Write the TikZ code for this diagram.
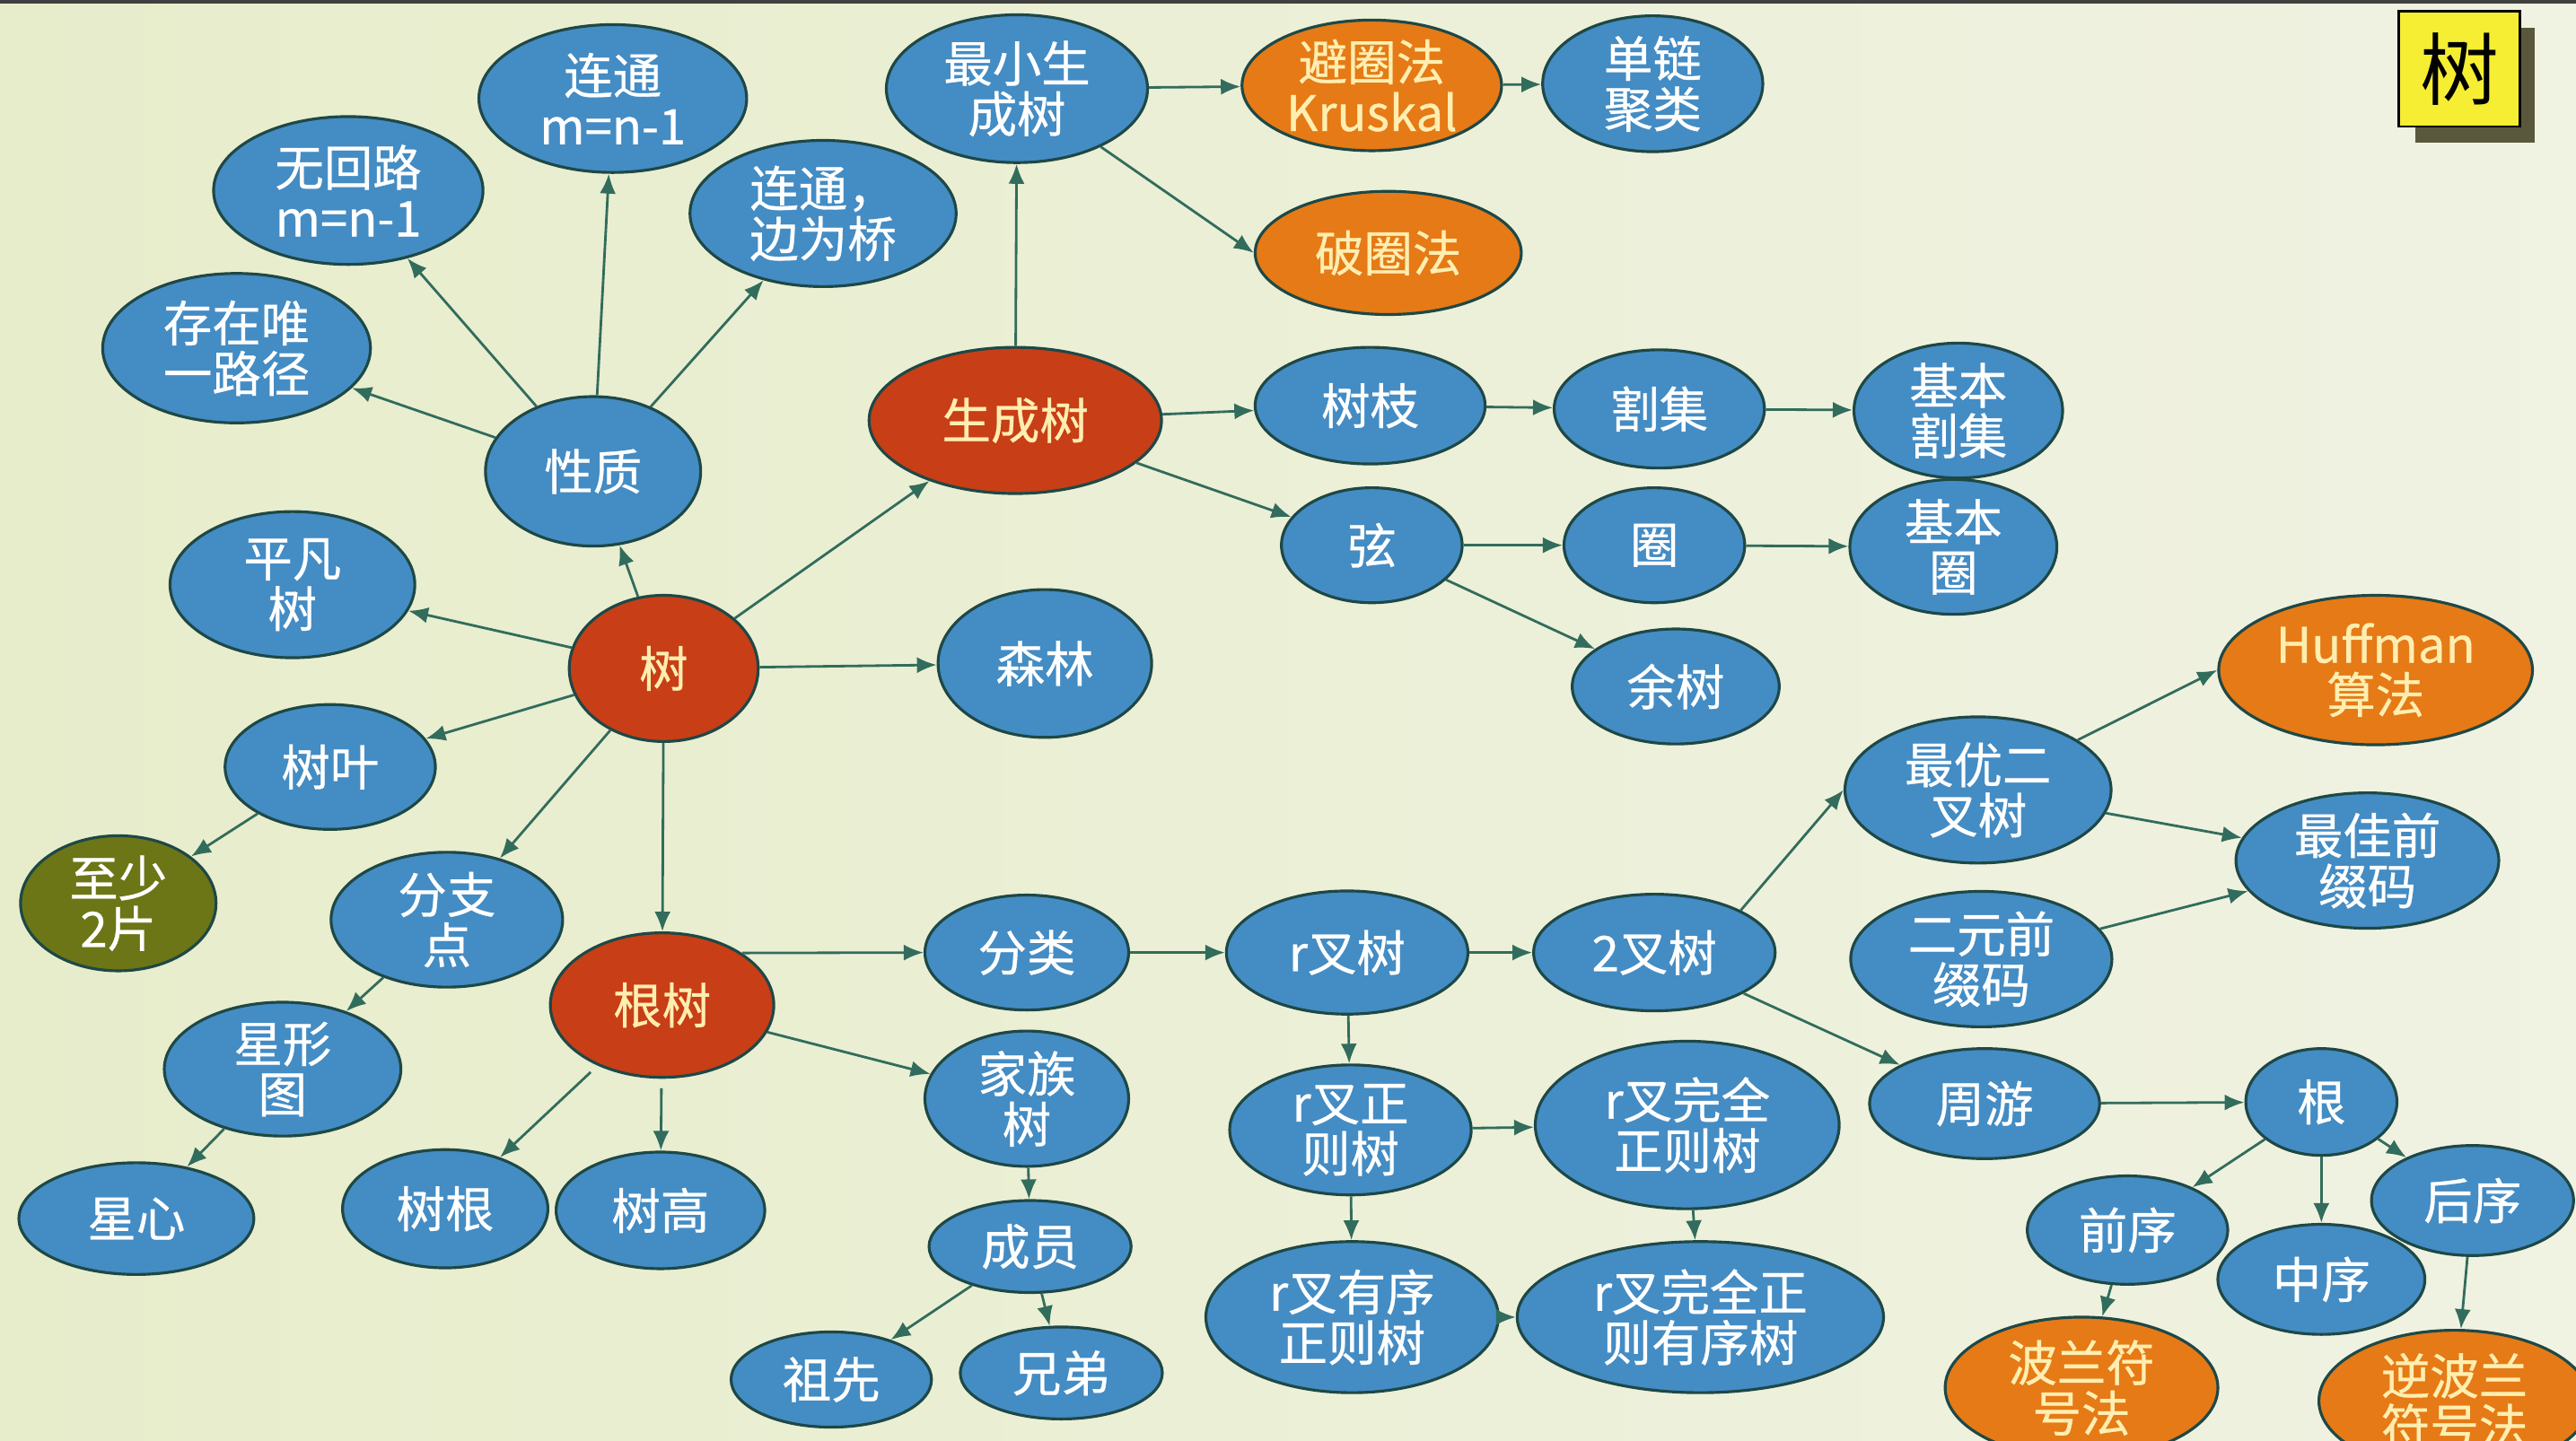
\documentclass[tikz,border=0pt]{standalone}
\usepackage{fontspec}
\setmainfont{Noto Sans CJK SC}
\newfontfamily\bubblefont{Noto Sans CJK SC}[FakeBold=0.6]
\usetikzlibrary{arrows.meta,shapes.geometric}
\definecolor{bgl}{RGB}{231,237,203}
\definecolor{bgr}{RGB}{240,242,226}
\definecolor{nodeblue}{RGB}{68,140,196}
\definecolor{rimcol}{RGB}{30,72,70}
\definecolor{rootred}{RGB}{200,62,22}
\definecolor{methodorange}{RGB}{229,122,22}
\definecolor{leafgreen}{RGB}{108,118,22}
\definecolor{arrowcol}{RGB}{50,108,92}
\definecolor{warmtext}{RGB}{255,238,176}
\definecolor{titleyellow}{RGB}{245,238,50}
\definecolor{shadowcol}{RGB}{90,88,60}
\def\pxu{0.18304mm}

\begin{document}
\begin{tikzpicture}[x=0.18304mm,y=-0.18304mm,
    bubble/.style={ellipse,draw=rimcol,line width=0.9pt,fill=nodeblue,text=white,inner sep=0pt,align=center,font=\bubblefont\fontsize{15.5}{16}\selectfont},
    rootnode/.style={bubble,fill=rootred,text=warmtext},
    methodnode/.style={bubble,fill=methodorange,text=warmtext},
    leafnode/.style={bubble,fill=leafgreen,text=white},
    dims/.style 2 args={minimum width=#1*\pxu,minimum height=#2*\pxu},
    link/.style={draw=arrowcol,line width=0.8pt,-{Latex[length=2.2mm,width=1.8mm]}}]
    % slide
    \fill[left color=bgl,right color=bgr] (0,0) rectangle (1568,877);
    \fill[black!75] (0,0) rectangle (1568,2);
    \useasboundingbox (0,0) rectangle (1568,877);

    % properties
    \node[bubble,dims={163}{90}] (liantong) at (373,60) {连通\\m=n-1};
    \node[bubble,dims={164}{90}] (wuhuilu) at (212,116) {无回路\\m=n-1};
    \node[bubble,dims={162}{89}] (qiao) at (501,130) {连通，\\边为桥};
    \node[bubble,dims={163}{91}] (weiyi) at (144,212) {存在唯\\一路径};
    \node[bubble,dims={131}{91}] (xingzhi) at (361,287) {性质};
    \node[bubble,dims={149}{89}] (pingfan) at (178,356) {平凡\\树};
    \node[rootnode,dims={115}{89}] (shu) at (404,407) {树};
    \node[bubble,dims={130}{90}] (senlin) at (636,404) {森林};
    \node[bubble,dims={128}{76}] (shuye) at (201,467) {树叶};
    \node[leafnode,dims={119}{75}] (zhishao) at (72,550) {至少\\2片};
    \node[bubble,dims={141}{68}] (fenzhi) at (272,560) {分支\\点};
    \node[bubble,dims={144}{68}] (xingxing) at (172,651) {星形\\图};
    \node[bubble,dims={143}{68}] (xingxin) at (83,742) {星心};

    % rooted trees
    \node[rootnode,dims={136}{88}] (genshu) at (403,612) {根树};
    \node[bubble,dims={125}{72}] (shugen) at (271,736) {树根};
    \node[bubble,dims={127}{71}] (shugao) at (402,737) {树高};
    \node[bubble,dims={124}{70}] (fenlei) at (625,580) {分类};
    \node[bubble,dims={124}{72}] (jiazu) at (625,669) {家族\\树};
    \node[bubble,dims={123}{56}] (chengyuan) at (627,759) {成员};
    \node[bubble,dims={122}{58}] (zuxian) at (506,840) {祖先};
    \node[bubble,dims={123}{56}] (xiongdi) at (646,836) {兄弟};

    % spanning trees
    \node[rootnode,dims={178}{89}] (shengcheng) at (618,256) {生成树};
    \node[bubble,dims={159}{90}] (zuixiao) at (619,54) {最小生\\成树};
    \node[methodnode,dims={158}{79}] (biquan) at (835,52) {避圈法\\Kruskal};
    \node[bubble,dims={134}{72}] (danlian) at (1006,51) {单链\\聚类};
    \node[methodnode,dims={162}{75}] (poquan) at (845,154) {破圈法};
    \node[bubble,dims={140}{71}] (shuzhi) at (834,247) {树枝};
    \node[bubble,dims={128}{72}] (geji) at (1010,249) {割集};
    \node[bubble,dims={127}{72}] (jbgeji) at (1192,250) {基本\\割集};
    \node[bubble,dims={110}{70}] (xian) at (835,332) {弦};
    \node[bubble,dims={110}{70}] (quan) at (1007,332) {圈};
    \node[bubble,dims={126}{71}] (jbquan) at (1189,333) {基本\\圈};
    \node[bubble,dims={126}{70}] (yushu) at (1020,418) {余树};

    % r-ary trees
    \node[bubble,dims={147}{75}] (rcha) at (820,580) {r叉树};
    \node[bubble,dims={147}{71}] (ercha) at (1007,580) {2叉树};
    \node[bubble,dims={147}{71}] (rzheng) at (822,688) {r叉正\\则树};
    \node[bubble,dims={185}{102}] (rwan) at (1027,685) {r叉完全\\正则树};
    \node[bubble,dims={178}{92}] (ryou) at (823,802) {r叉有序\\正则树};
    \node[bubble,dims={223}{92}] (rwanyou) at (1035,802) {r叉完全正\\则有序树};

    % binary trees
    \node[bubble,dims={162}{89}] (zuiyou) at (1204,481) {最优二\\叉树};
    \node[methodnode,dims={191}{91}] (huffman) at (1446,408) {Huffman\\算法};
    \node[bubble,dims={160}{76}] (zuijia) at (1441,524) {最佳前\\缀码};
    \node[bubble,dims={159}{74}] (eryuan) at (1206,584) {二元前\\缀码};
    \node[bubble,dims={140}{67}] (zhouyou) at (1208,672) {周游};
    \node[bubble,dims={92}{65}] (gen) at (1413,671) {根};
    \node[bubble,dims={122}{66}] (qianxu) at (1295,749) {前序};
    \node[bubble,dims={126}{67}] (zhongxu) at (1413,779) {中序};
    \node[bubble,dims={123}{67}] (houxu) at (1505,731) {后序};
    \node[methodnode,dims={166}{86}] (bolan) at (1267,845) {波兰符\\号法};
    \node[methodnode,dims={165}{86}] (nibolan) at (1494,853) {逆波兰\\符号法};

    % title
    \fill[shadowcol] (1470,17) rectangle (1543,87);
    \node[draw=black,line width=0.8pt,fill=titleyellow,inner sep=0pt,minimum width=74*\pxu,minimum height=70*\pxu,font=\fontsize{25}{25}\selectfont] (title) at (1497,42) {树};

    % arrows
    \draw[link] (shu) -- (xingzhi);
    \draw[link] (xingzhi) -- (weiyi);
    \draw[link] (xingzhi) -- (wuhuilu);
    \draw[link] (xingzhi) -- (liantong);
    \draw[link] (xingzhi) -- (qiao);
    \draw[link] (shu) -- (pingfan);
    \draw[link] (shu) -- (shuye);
    \draw[link] (shuye) -- (zhishao);
    \draw[link] (shu) -- (fenzhi);
    \draw[link] (fenzhi) -- (xingxing);
    \draw[link] (xingxing) -- (xingxin);
    \draw[link] (shu) -- (shengcheng);
    \draw[link] (shu) -- (senlin);
    \draw[link] (shu) -- (genshu);
    \draw[link] (shengcheng) -- (zuixiao);
    \draw[link] (zuixiao) -- (biquan);
    \draw[link] (biquan) -- (danlian);
    \draw[link] (zuixiao) -- (poquan.west);
    \draw[link] (shengcheng) -- (shuzhi);
    \draw[link] (shuzhi) -- (geji);
    \draw[link] (geji) -- (jbgeji);
    \draw[link] (shengcheng) -- (xian);
    \draw[link] (xian) -- (quan);
    \draw[link] (quan) -- (jbquan);
    \draw[link] (xian) -- (yushu);
    \draw[link] (genshu.north east) -- (fenlei.west);
    \draw[link] (genshu) -- (jiazu);
    \draw[link,shorten <=3pt] (genshu) -- (shugen);
    \draw[link,shorten <=3pt] (genshu) -- (shugao);
    \draw[link] (jiazu) -- (chengyuan);
    \draw[link] (chengyuan) -- (zuxian);
    \draw[link] (chengyuan) -- (xiongdi);
    \draw[link] (fenlei) -- (rcha);
    \draw[link] (rcha) -- (ercha);
    \draw[link] (rcha) -- (rzheng);
    \draw[link] (rzheng) -- (rwan);
    \draw[link] (rzheng) -- (ryou);
    \draw[link] (ryou) -- (rwanyou);
    \draw[link] (rwan) -- (rwanyou);
    \draw[link] (ercha.north east) -- (zuiyou.west);
    \draw[link] (ercha) -- (zhouyou);
    \draw[link] (zuiyou) -- (huffman.west);
    \draw[link] (zuiyou) -- (zuijia);
    \draw[link] (eryuan) -- (zuijia);
    \draw[link] (zhouyou) -- (gen);
    \draw[link] (gen) -- (qianxu);
    \draw[link] (gen) -- (zhongxu);
    \draw[link] (gen) -- (houxu);
    \draw[link] (qianxu) -- (bolan);
    \draw[link] (houxu) -- (nibolan);
\end{tikzpicture}
\end{document}
